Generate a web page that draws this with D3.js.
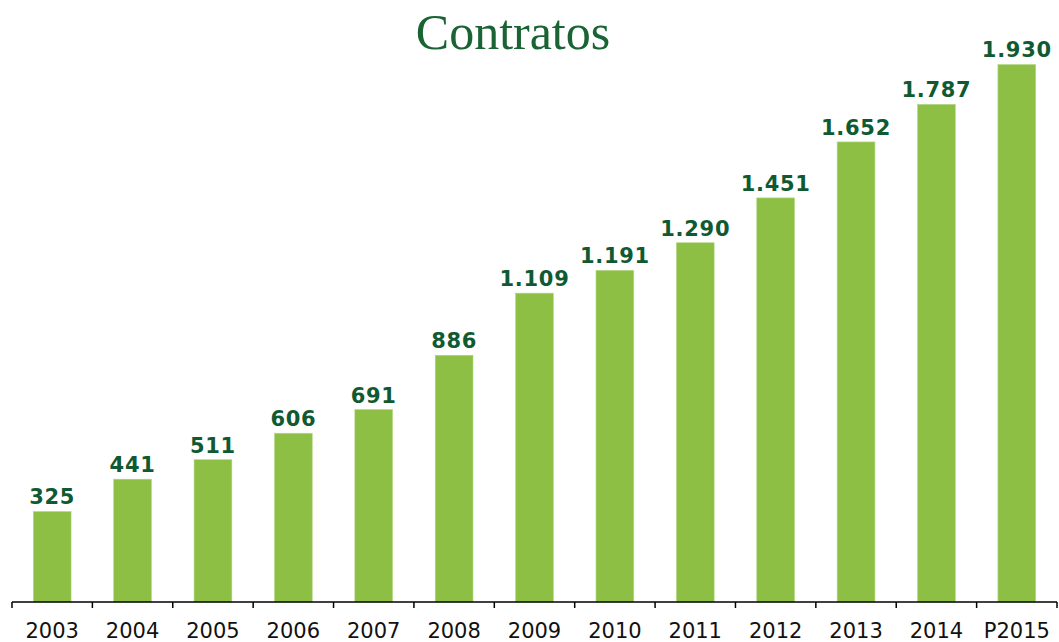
<!DOCTYPE html>
<html lang="es">
<head>
<meta charset="utf-8">
<script src="https://d3js.org/d3.v7.min.js"></script>
<style>
  body { margin: 0; background: #fff; }
  .bar { fill: #8cbf44; stroke: #b5d98a; stroke-width: 0.6; }
  .val { font-family: "DejaVu Sans", Verdana, sans-serif; font-weight: bold; font-size: 21px; letter-spacing: 0.7px; fill: #0f5a32; text-anchor: middle; }
  .tick-label { font-family: "DejaVu Sans", Verdana, sans-serif; font-size: 21px; fill: #111; text-anchor: middle; }
  .title { font-family: "Liberation Serif", "DejaVu Serif", serif; font-size: 50px; fill: #1a6334; text-anchor: middle; }
</style>
</head>
<body>
<svg id="chart" width="1059" height="642"></svg>
<script>
  var years = ["2003","2004","2005","2006","2007","2008","2009","2010","2011","2012","2013","2014","P2015"];
  var contratos = [325, 441, 511, 606, 691, 886, 1109, 1191, 1290, 1451, 1652, 1787, 1930];
  var labels = ["325","441","511","606","691","886","1.109","1.191","1.290","1.451","1.652","1.787","1.930"];

  var svg = d3.select("#chart");
  var left = 12, right = 1057, base = 602;

  var x = d3.scaleBand()
      .domain(years)
      .range([left, right])
      .paddingInner(0.53)
      .paddingOuter(0.265);

  var y = d3.scaleLinear()
      .domain([0, 2000])
      .range([base, 45]);

  svg.append("text")
    .attr("class", "title")
    .attr("x", 513)
    .attr("y", 49)
    .text("Contratos");

  svg.selectAll(".bar")
    .data(years)
    .enter()
    .append("rect")
    .attr("class", "bar")
    .attr("x", function(d) { return x(d); })
    .attr("width", x.bandwidth())
    .attr("y", function(d, i) { return y(contratos[i]); })
    .attr("height", function(d, i) { return base - y(contratos[i]); });

  svg.selectAll(".val")
    .data(years)
    .enter()
    .append("text")
    .attr("class", "val")
    .attr("x", function(d) { return x(d) + x.bandwidth() / 2; })
    .attr("y", function(d, i) { return y(contratos[i]) - 7; })
    .text(function(d, i) { return labels[i]; });

  // axis line with ticks at category boundaries
  var step = x.step();
  var bounds = d3.range(years.length + 1).map(function(i) { return left + i * step; });
  var axis = svg.append("g");
  axis.append("line")
    .attr("x1", left).attr("x2", right)
    .attr("y1", base).attr("y2", base)
    .attr("stroke", "#000").attr("stroke-width", 1.5);
  axis.selectAll(".tk")
    .data(bounds)
    .enter()
    .append("line")
    .attr("x1", function(d) { return d; }).attr("x2", function(d) { return d; })
    .attr("y1", base).attr("y2", base + 6)
    .attr("stroke", "#000").attr("stroke-width", 1.5);

  axis.selectAll(".tick-label")
    .data(years)
    .enter()
    .append("text")
    .attr("class", "tick-label")
    .attr("x", function(d) { return x(d) + x.bandwidth() / 2; })
    .attr("y", 638)
    .text(function(d) { return d; });
</script>
</body>
</html>
